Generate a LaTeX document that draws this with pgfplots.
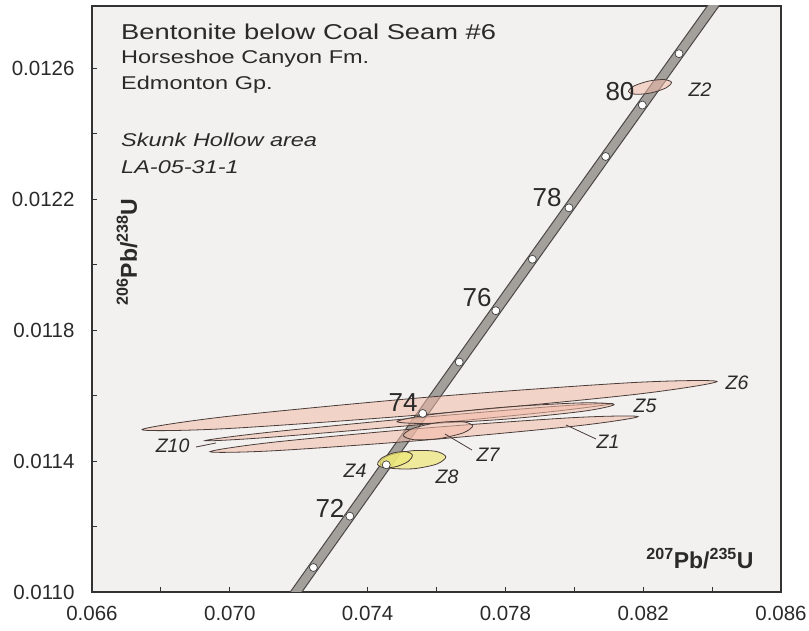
\documentclass[border=0pt]{standalone}
\usepackage{pgfplots}
\pgfplotsset{compat=1.18}
\usepackage{pgfplotstable}
\usepackage{graphicx}
\usepackage{fontspec}
\setmainfont{Liberation Sans}
\definecolor{bg}{HTML}{F2F1EF}
\definecolor{txt}{HTML}{2A2A2A}
\definecolor{band}{HTML}{A3A09C}
\definecolor{bandline}{HTML}{4A4846}
\definecolor{pinkfill}{HTML}{F2BBA8}
\definecolor{pinkline}{HTML}{4A3C38}
\definecolor{yelfill}{HTML}{EEE878}
\newcommand{\wide}[1]{\scalebox{1.27}[1]{#1}}

% concordia (t in Ma, 207Pb/235U, 206Pb/238U)
\pgfplotstableread{
t x y
70 0.0713714 0.0109179
71 0.0724270 0.0110748
72 0.0734837 0.0112316
73 0.0745415 0.0113885
74 0.0756003 0.0115454
75 0.0766601 0.0117023
76 0.0777210 0.0118593
77 0.0787829 0.0120163
78 0.0798459 0.0121733
79 0.0809099 0.0123303
80 0.0819749 0.0124873
81 0.0830410 0.0126444
82 0.0841082 0.0128015
}\concordia
\pgfplotstableread{
t x y
71 0.0724270 0.0110748
72 0.0734837 0.0112316
73 0.0745415 0.0113885
74 0.0756003 0.0115454
75 0.0766601 0.0117023
76 0.0777210 0.0118593
77 0.0787829 0.0120163
78 0.0798459 0.0121733
79 0.0809099 0.0123303
80 0.0819749 0.0124873
81 0.0830410 0.0126444
}\ticksma

\begin{document}
\begin{tikzpicture}
\useasboundingbox (-92pt,-39pt) rectangle (717pt,592pt);
\begin{axis}[
  at={(0pt,0pt)}, anchor=south west,
  scale only axis, width=689pt, height=586pt,
  xmin=0.066, xmax=0.086, ymin=0.0110, ymax=0.01279,
  axis background/.style={fill=bg},
  axis line style={draw=black!80, line width=1.3pt},
  tick pos=left, tick align=inside,
  major tick length=5pt,
  tick style={draw=black!80, line width=0.9pt},
  xtick={0.066,0.068,...,0.0861},
  xticklabels={0.066,,0.070,,0.074,,0.078,,0.082,,0.086},
  ytick={0.0110,0.0112,...,0.01261},
  yticklabels={0.0110,,0.0114,,0.0118,,0.0122,,0.0126},
  /pgf/number format/assume math mode=true,
  ticklabel style={font=\fontsize{20.5}{24}\selectfont, text=txt},
  xticklabel style={yshift=-11pt},
  yticklabel style={xshift=-14pt},
  scaled ticks=false,
]
% concordia band
\addplot[draw=bandline, line width=10.5pt] table[x=x,y=y] {\concordia};
\addplot[draw=band, line width=8.2pt] table[x=x,y=y] {\concordia};
\addplot[only marks, mark=*, mark size=4pt, mark options={fill=white, draw=black!75, line width=0.7pt}] table[x=x,y=y] {\ticksma};

% error ellipses
% Z6
\addplot[smooth cycle, draw=pinkline, line width=0.8pt, fill=pinkfill, fill opacity=0.55] coordinates {
(0.084143,0.011643) (0.081684,0.0116396) (0.0757763,0.0115953) (0.069881,0.0115357)
(0.0674514,0.0114959) (0.0699101,0.0114991) (0.0758176,0.0115434) (0.081713,0.0116029)};
% Z1
\addplot[smooth cycle, draw=pinkline, line width=0.8pt, fill=pinkfill, fill opacity=0.55] coordinates {
(0.081849,0.0115357) (0.080019,0.0115329) (0.0756231,0.0115004) (0.0712352,0.0114572)
(0.0694253,0.0114285) (0.0712555,0.0114313) (0.0756515,0.0114638) (0.080039,0.011507)};
% Z10
\addplot[smooth cycle, draw=pinkline, line width=0.8pt, fill=pinkfill, fill opacity=0.55] coordinates {
(0.081095,0.0115755) (0.079359,0.0115664) (0.075178,0.0115295) (0.0710044,0.0114864)
(0.0692802,0.0114622) (0.071016,0.0114714) (0.0751966,0.0115081) (0.07937,0.0115513)};
% Z5
\addplot[smooth cycle, draw=pinkline, line width=0.8pt, fill=pinkfill, fill opacity=0.55] coordinates {
(0.081153,0.0115724) (0.08022,0.0115777) (0.077989,0.0115647) (0.0757665,0.0115409)
(0.0748535,0.0115204) (0.0757856,0.011515) (0.078017,0.0115281) (0.08024,0.0115518)};
% Z7
\addplot[smooth cycle, draw=pinkline, line width=0.8pt, fill=pinkfill, fill opacity=0.55] coordinates {
(0.07705,0.0115077) (0.076732,0.0115205) (0.076011,0.011517) (0.0753092,0.0114994)
(0.0750376,0.0114779) (0.0753551,0.0114651) (0.076076,0.0114686) (0.076778,0.0114862)};
% Z2
\addplot[smooth cycle, draw=pinkline, line width=0.8pt, fill=pinkfill, fill opacity=0.55] coordinates {
(0.082822,0.0125567) (0.082614,0.0125653) (0.082161,0.0125607) (0.08173,0.0125455)
(0.081573,0.0125287) (0.081781,0.0125201) (0.082234,0.0125247) (0.082665,0.0125399)};
% Z8
\addplot[smooth cycle, draw=pinkline, line width=0.8pt, fill=yelfill, fill opacity=0.7] coordinates {
(0.076272,0.0114129) (0.0759766,0.0114297) (0.0752953,0.0114315) (0.0746274,0.0114172)
(0.0743638,0.0113952) (0.0746593,0.0113784) (0.0753406,0.0113766) (0.076008,0.0113908)};
% Z4
\addplot[smooth cycle, draw=pinkline, line width=0.8pt, fill=yelfill, fill opacity=0.7] coordinates {
(0.0753003,0.0114183) (0.0751154,0.0114288) (0.0747429,0.0114247) (0.0744013,0.0114086)
(0.0742907,0.0113898) (0.0744756,0.0113793) (0.074848,0.0113834) (0.0751896,0.0113995)};

% pointer lines
\draw[pinkline, line width=0.8pt] (rel axis cs:0.1509,0.2474) -- (rel axis cs:0.18,0.2543);
\draw[pinkline, line width=0.8pt] (rel axis cs:0.5123,0.2696) -- (rel axis cs:0.5515,0.2423);
\draw[pinkline, line width=0.8pt] (rel axis cs:0.688,0.285) -- (rel axis cs:0.7315,0.2611);

% title block
\node[anchor=base west, inner sep=0pt, text=txt, font=\fontsize{21.5}{25}\selectfont] at (rel axis cs:0.0421,0.9420) {\wide{Bentonite below Coal Seam \#6}};
\node[anchor=base west, inner sep=0pt, text=txt, font=\fontsize{18.5}{22}\selectfont] at (rel axis cs:0.0421,0.9019) {\wide{Horseshoe Canyon Fm.}};
\node[anchor=base west, inner sep=0pt, text=txt, font=\fontsize{18.5}{22}\selectfont] at (rel axis cs:0.0421,0.8567) {\wide{Edmonton Gp.}};
\node[anchor=base west, inner sep=0pt, text=txt, font=\fontsize{18.5}{22}\selectfont\itshape] at (rel axis cs:0.0421,0.7602) {\wide{Skunk Hollow area}};
\node[anchor=base west, inner sep=0pt, text=txt, font=\fontsize{18.5}{22}\selectfont\itshape] at (rel axis cs:0.0421,0.7150) {\wide{LA-05-31-1}};

% age labels
\node[text=txt, font=\fontsize{26}{30}\selectfont] at (rel axis cs:0.7663,0.8532) {80};
\node[text=txt, font=\fontsize{26}{30}\selectfont] at (rel axis cs:0.6604,0.6724) {78};
\node[text=txt, font=\fontsize{26}{30}\selectfont] at (rel axis cs:0.5588,0.5017) {76};
\node[text=txt, font=\fontsize{26}{30}\selectfont] at (rel axis cs:0.4514,0.3225) {74};
\node[text=txt, font=\fontsize{26}{30}\selectfont] at (rel axis cs:0.3454,0.1433) {72};

% grain labels
\node[text=txt, font=\fontsize{19.5}{23}\selectfont\itshape] at (rel axis cs:0.8824,0.8567) {Z2};
\node[text=txt, font=\fontsize{19.5}{23}\selectfont\itshape] at (rel axis cs:0.9361,0.3567) {Z6};
\node[text=txt, font=\fontsize{19.5}{23}\selectfont\itshape] at (rel axis cs:0.8026,0.3174) {Z5};
\node[text=txt, font=\fontsize{19.5}{23}\selectfont\itshape] at (rel axis cs:0.7489,0.256) {Z1};
\node[text=txt, font=\fontsize{19.5}{23}\selectfont\itshape] at (rel axis cs:0.5747,0.2338) {Z7};
\node[text=txt, font=\fontsize{19.5}{23}\selectfont\itshape] at (rel axis cs:0.5152,0.1962) {Z8};
\node[text=txt, font=\fontsize{19.5}{23}\selectfont\itshape] at (rel axis cs:0.3817,0.2065) {Z4};
\node[text=txt, font=\fontsize{19.5}{23}\selectfont\itshape] at (rel axis cs:0.117,0.2491) {Z10};

% axis titles
\node[rotate=90, text=txt, font=\fontsize{23}{27}\selectfont\bfseries] at (rel axis cs:0.0508,0.5802) {\textsuperscript{206}Pb/\textsuperscript{238}U};
\node[text=txt, font=\fontsize{23}{27}\selectfont\bfseries] at (rel axis cs:0.8824,0.0563) {\textsuperscript{207}Pb/\textsuperscript{235}U};
\end{axis}
\end{tikzpicture}
\end{document}
